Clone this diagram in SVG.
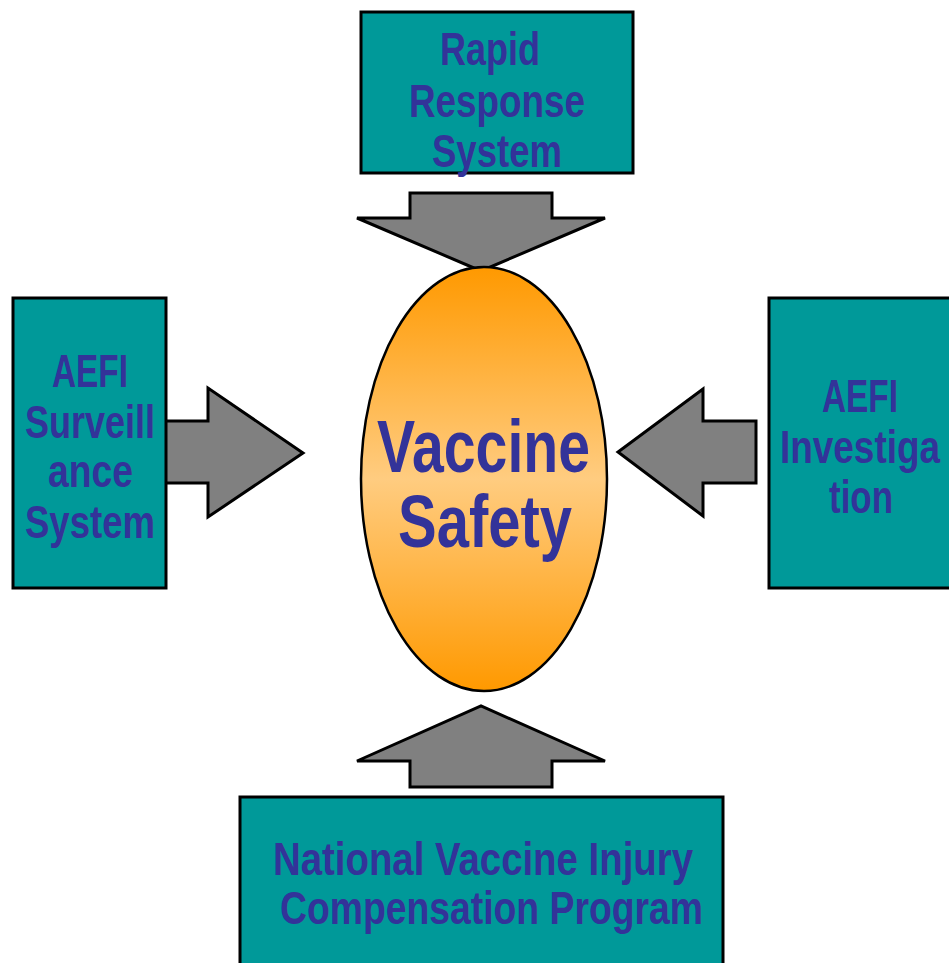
<svg xmlns="http://www.w3.org/2000/svg" width="949" height="963" viewBox="0 0 949 963">
<defs>
<linearGradient id="og" x1="0" y1="0" x2="0" y2="1">
<stop offset="0" stop-color="#ff9900"/>
<stop offset="0.5" stop-color="#ffcc80"/>
<stop offset="1" stop-color="#ff9900"/>
</linearGradient>
<style>
.box{fill:#009999;stroke:#000;stroke-width:3}
.arr{fill:#808080;stroke:#000;stroke-width:3;stroke-linejoin:miter}
.t{font-family:"Liberation Sans",Arial,sans-serif;font-weight:bold;font-size:46px;fill:#333399}
.big{font-size:74px}
</style>
</defs>
<rect width="949" height="963" fill="#fff"/>
<g id="connectors">
<polygon class="arr" points="410,193 552,193 552,218 605,218 481,271 357,218 410,218"/>
<polygon class="arr" points="165,421 208,421 208,388 303,453 208,517 208,483 165,483"/>
<polygon class="arr" points="756,421 703,421 703,389 618,452 703,516 703,483 756,483"/>
<polygon class="arr" points="410,787 552,787 552,761 605,761 481,706 357,761 410,761"/>
</g>
<g id="center">
<ellipse cx="484" cy="479" rx="123" ry="212" fill="url(#og)" stroke="#000" stroke-width="2.5"/>
<text class="t big" x="377" y="472" textLength="213" lengthAdjust="spacingAndGlyphs">Vaccine</text>
<text class="t big" x="398" y="547" textLength="174" lengthAdjust="spacingAndGlyphs">Safety</text>
</g>
<g id="rapid">
<rect class="box" x="361" y="12" width="272" height="161"/>
<text class="t" x="440" y="65" textLength="100" lengthAdjust="spacingAndGlyphs">Rapid</text>
<text class="t" x="409" y="117" textLength="176" lengthAdjust="spacingAndGlyphs">Response</text>
<text class="t" x="432" y="167" textLength="130" lengthAdjust="spacingAndGlyphs">System</text>
</g>
<g id="surveillance">
<rect class="box" x="13" y="298" width="153" height="290"/>
<text class="t" x="52" y="387" textLength="76" lengthAdjust="spacingAndGlyphs">AEFI</text>
<text class="t" x="25" y="438" textLength="130" lengthAdjust="spacingAndGlyphs">Surveill</text>
<text class="t" x="48" y="487" textLength="85" lengthAdjust="spacingAndGlyphs">ance</text>
<text class="t" x="25" y="538" textLength="130" lengthAdjust="spacingAndGlyphs">System</text>
</g>
<g id="investigation">
<rect class="box" x="769" y="298" width="185" height="290"/>
<text class="t" x="822" y="412" textLength="76" lengthAdjust="spacingAndGlyphs">AEFI</text>
<text class="t" x="780" y="463" textLength="160" lengthAdjust="spacingAndGlyphs">Investiga</text>
<text class="t" x="829" y="513" textLength="64" lengthAdjust="spacingAndGlyphs">tion</text>
</g>
<g id="compensation">
<rect class="box" x="240" y="797" width="483" height="175"/>
<text class="t" x="273" y="875" textLength="420" lengthAdjust="spacingAndGlyphs">National Vaccine Injury</text>
<text class="t" x="280" y="924" textLength="423" lengthAdjust="spacingAndGlyphs">Compensation Program</text>
</g>
</svg>
